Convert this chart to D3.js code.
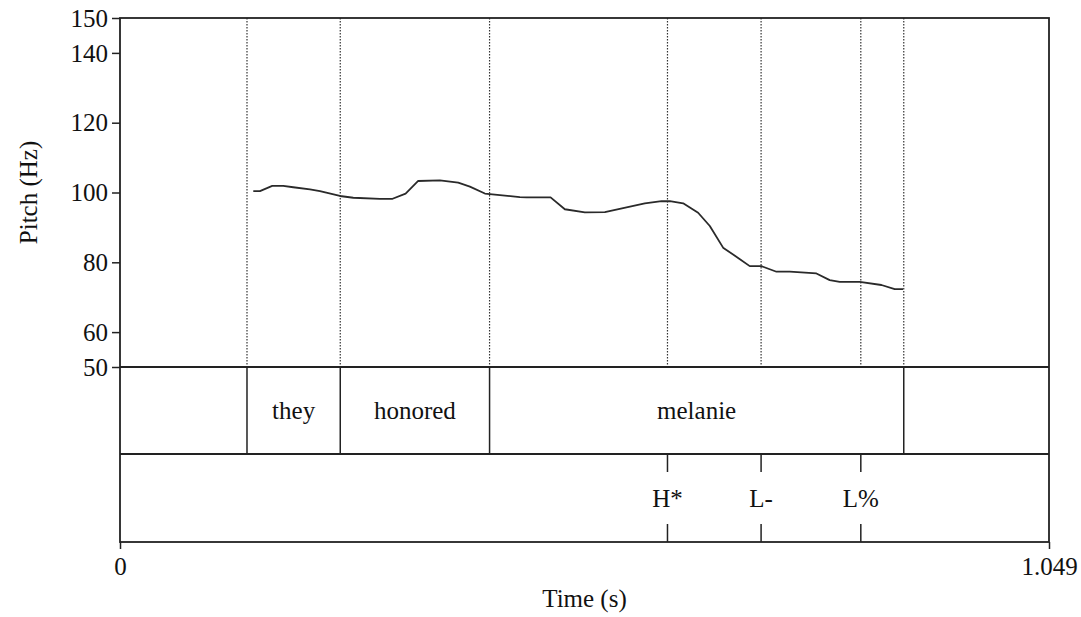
<!DOCTYPE html>
<html>
<head>
<meta charset="utf-8">
<script src="https://cdn.jsdelivr.net/npm/d3@7/dist/d3.min.js"></script>
<style>
  html, body { margin: 0; padding: 0; background: #fff; }
  svg { display: block; }
  text { font-family: "Liberation Serif", "Times New Roman", serif; fill: #111; }
</style>
</head>
<body>
<svg id="chart" width="1081" height="617"></svg>
<script>
// Pitch track (seconds, Hz)
const pitchTimes = [0.1505, 0.158, 0.1719, 0.1843, 0.1956, 0.2145, 0.2258, 0.2483, 0.2634, 0.2935,
  0.3078, 0.3225, 0.3367, 0.3612, 0.3819, 0.3951, 0.412, 0.4515, 0.4591, 0.4862, 0.5023, 0.5249,
  0.5475, 0.5681, 0.5926, 0.6115, 0.6209, 0.6359, 0.6528, 0.666, 0.681, 0.7, 0.7111, 0.7243,
  0.7413, 0.7563, 0.7864, 0.8014, 0.8127, 0.8353, 0.8598, 0.8748, 0.8842];
const pitchValues = [100.4, 100.4, 101.9, 101.9, 101.5, 100.9, 100.4, 99.0, 98.5, 98.2,
  98.2, 99.7, 103.3, 103.5, 102.8, 101.7, 99.7, 98.7, 98.6, 98.6, 95.2, 94.3,
  94.4, 95.5, 96.9, 97.5, 97.5, 96.9, 94.2, 90.4, 84.2, 80.9, 78.9, 78.9,
  77.3, 77.3, 76.8, 74.9, 74.4, 74.4, 73.5, 72.3, 72.3];

// Word tier: interval boundaries and labels
const wordBounds = [0.1434, 0.2487, 0.4173, 0.885];
const wordLabels = ["they", "honored", "melanie"];

// Tone tier: point events
const toneTimes = [0.6182, 0.7239, 0.8365];
const toneLabels = ["H*", "L-", "L%"];

// Axis ticks
const pitchTicks = [50, 60, 80, 100, 120, 140, 150];
const timeDomain = [0, 1.049];
const pitchDomain = [50, 150];

(function draw() {
  const svg = d3.select("#chart");
  const plotLeft = 120, plotRight = 1049, plotTop = 18;
  const pitchBottom = 367, tier1Bottom = 454, tier2Bottom = 542;
  const ink = "#222";

  const x = d3.scaleLinear().domain(timeDomain).range([plotLeft, plotRight]);
  const y = d3.scaleLinear().domain(pitchDomain).range([pitchBottom, plotTop]);

  // Dotted guides through the pitch panel at every boundary and tone point
  const guideTimes = wordBounds.concat(toneTimes);
  svg.append("g").selectAll("line").data(guideTimes).join("line")
    .attr("x1", d => x(d)).attr("x2", d => x(d))
    .attr("y1", plotTop).attr("y2", pitchBottom)
    .attr("stroke", "#333").attr("stroke-width", 1.2)
    .attr("stroke-dasharray", "1.5,1.5");

  // Pitch curve
  const line = d3.line().x(d => x(d[0])).y(d => y(d[1]));
  svg.append("path")
    .datum(pitchTimes.map((t, i) => [t, pitchValues[i]]))
    .attr("d", line)
    .attr("fill", "none").attr("stroke", "#2a2a2a").attr("stroke-width", 1.8)
    .attr("stroke-linejoin", "round");

  // Frame and tier separators
  const frame = svg.append("g").attr("stroke", ink).attr("stroke-width", 1.8).attr("fill", "none");
  frame.append("rect").attr("x", plotLeft).attr("y", plotTop)
    .attr("width", plotRight - plotLeft).attr("height", tier2Bottom - plotTop);
  frame.append("line").attr("x1", plotLeft).attr("x2", plotRight).attr("y1", pitchBottom).attr("y2", pitchBottom);
  frame.append("line").attr("x1", plotLeft).attr("x2", plotRight).attr("y1", tier1Bottom).attr("y2", tier1Bottom);

  // Y axis
  const yAxis = d3.axisLeft(y).tickValues(pitchTicks).tickSize(8).tickPadding(4).tickFormat(d3.format("d"));
  const gy = svg.append("g").attr("transform", `translate(${plotLeft},0)`).call(yAxis);
  gy.select(".domain").remove();
  gy.selectAll(".tick line").attr("stroke", ink).attr("stroke-width", 1.5);
  gy.selectAll(".tick text").attr("font-size", 25).attr("font-family", "Liberation Serif")
    .attr("fill", "#111").attr("dy", "0.33em");

  // X axis (only the ends are labelled)
  const xAxis = d3.axisBottom(x).tickValues(timeDomain).tickSize(7).tickPadding(8)
    .tickFormat(d => d === 0 ? "0" : d3.format(".3f")(d));
  const gx = svg.append("g").attr("transform", `translate(0,${tier2Bottom})`).call(xAxis);
  gx.select(".domain").remove();
  gx.selectAll(".tick line").attr("stroke", ink).attr("stroke-width", 1.5);
  gx.selectAll(".tick text").attr("font-size", 25).attr("font-family", "Liberation Serif")
    .attr("fill", "#111");

  // Word tier
  svg.append("g").selectAll("line").data(wordBounds).join("line")
    .attr("x1", d => x(d)).attr("x2", d => x(d))
    .attr("y1", pitchBottom).attr("y2", tier1Bottom)
    .attr("stroke", ink).attr("stroke-width", 1.5);
  svg.append("g").selectAll("text").data(wordLabels).join("text")
    .attr("x", (d, i) => (x(wordBounds[i]) + x(wordBounds[i + 1])) / 2)
    .attr("y", 419)
    .attr("text-anchor", "middle").attr("font-size", 25)
    .text(d => d);

  // Tone tier
  const tones = svg.append("g");
  tones.selectAll("line.top").data(toneTimes).join("line").attr("class", "top")
    .attr("x1", d => x(d)).attr("x2", d => x(d))
    .attr("y1", tier1Bottom).attr("y2", tier1Bottom + 18)
    .attr("stroke", ink).attr("stroke-width", 1.5);
  tones.selectAll("line.bot").data(toneTimes).join("line").attr("class", "bot")
    .attr("x1", d => x(d)).attr("x2", d => x(d))
    .attr("y1", tier2Bottom - 18).attr("y2", tier2Bottom)
    .attr("stroke", ink).attr("stroke-width", 1.5);
  tones.selectAll("text").data(toneLabels).join("text")
    .attr("x", (d, i) => x(toneTimes[i]))
    .attr("y", 507)
    .attr("text-anchor", "middle").attr("font-size", 25)
    .text(d => d);

  // Axis titles
  svg.append("text")
    .attr("x", (plotLeft + plotRight) / 2).attr("y", 607)
    .attr("text-anchor", "middle").attr("font-size", 25)
    .text("Time (s)");
  svg.append("text")
    .attr("transform", `translate(37,${(plotTop + pitchBottom) / 2}) rotate(-90)`)
    .attr("text-anchor", "middle").attr("font-size", 25)
    .text("Pitch (Hz)");
})();
</script>
</body>
</html>
